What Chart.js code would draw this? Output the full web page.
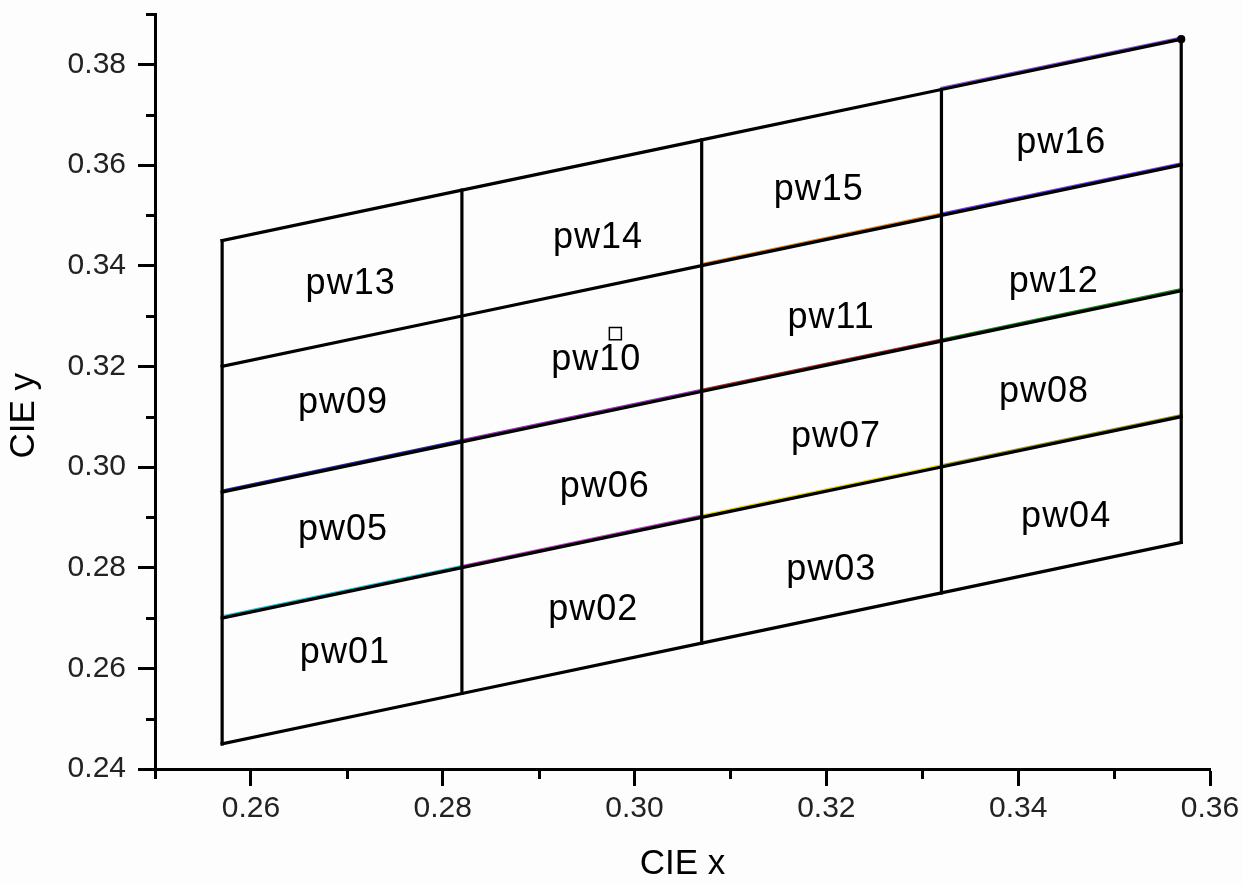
<!DOCTYPE html>
<html>
<head>
<meta charset="utf-8">
<title>CIE x-y bins</title>
<script src="https://cdn.jsdelivr.net/npm/chart.js@4.4.1/dist/chart.umd.min.js"></script>
<style>
  html, body { margin: 0; padding: 0; background: #fdfdfd; }
  #wrap { width: 1243px; height: 885px; position: relative; }
</style>
</head>
<body>
<div id="wrap"><canvas id="cieChart"></canvas></div>
<script>
'use strict';

// bin edges along CIE x
const xEdges = [0.257, 0.282, 0.307, 0.332, 0.357];

// y of each bin boundary line where it crosses the x edges (bottom line first)
const hLine0 = [0.245, 0.255, 0.265, 0.275, 0.285];
const hLine1 = [0.270, 0.280, 0.290, 0.300, 0.310];
const hLine2 = [0.295, 0.305, 0.315, 0.325, 0.335];
const hLine3 = [0.320, 0.330, 0.340, 0.350, 0.360];
const hLine4 = [0.345, 0.355, 0.365, 0.375, 0.385];
const hLines = [hLine0, hLine1, hLine2, hLine3, hLine4];

// faint colour fringe seen along some segments of the lines
const hTints = [
  [null, null, null, null],
  ['#19c9d6', '#c040c8', '#e8d800', '#9a9a10'],
  ['#2a2aa8', '#a030c0', '#a82828', '#1a8a1a'],
  [null, null, '#e88a20', '#7a3cff'],
  [null, null, null, '#8a50e0'],
];

// bin names and where they sit
const binNames = ['pw01', 'pw02', 'pw03', 'pw04', 'pw05', 'pw06', 'pw07', 'pw08',
                  'pw09', 'pw10', 'pw11', 'pw12', 'pw13', 'pw14', 'pw15', 'pw16'];
const binX = [0.2698, 0.2957, 0.3205, 0.3450, 0.2696, 0.2969, 0.3210, 0.3427,
              0.2696, 0.2960, 0.3205, 0.3437, 0.2704, 0.2962, 0.3192, 0.3445];
const binY = [0.2630, 0.2716, 0.2795, 0.2900, 0.2875, 0.2960, 0.3059, 0.3149,
              0.3127, 0.3212, 0.3296, 0.3367, 0.3363, 0.3455, 0.3550, 0.3643];

// measured point
const pointX = [0.2980];
const pointY = [0.3265];

// axis ticks
const xMajor = [0.26, 0.28, 0.30, 0.32, 0.34, 0.36];
const xMinor = [0.25, 0.27, 0.29, 0.31, 0.33, 0.35];
const yMajor = [0.24, 0.26, 0.28, 0.30, 0.32, 0.34, 0.36, 0.38];
const yMinor = [0.25, 0.27, 0.29, 0.31, 0.33, 0.35, 0.37, 0.39];

const FONT = "'Liberation Sans', Arial, sans-serif";

/* ── datasets ─────────────────────────────────────────────── */
const lineStyle = {
  borderColor: '#000',
  borderWidth: 3.2,
  borderCapStyle: 'square',
  pointRadius: 0,
  showLine: true,
  fill: false,
  order: 1,
};

const datasets = [];

// the marker sits on top
datasets.push({
  label: 'point',
  data: pointX.map((x, i) => ({ x, y: pointY[i] })),
  pointStyle: 'rect',
  pointRadius: 8.5,
  borderColor: '#000',
  borderWidth: 1.5,
  backgroundColor: '#fff',
  showLine: false,
  order: 0,
});

hLines.forEach((ys, i) => {
  const data = xEdges.map((x, j) => ({ x, y: ys[j] }));
  datasets.push({
    ...lineStyle,
    label: 'h' + i,
    data,
    pointRadius: i === hLines.length - 1 ? [0, 0, 0, 0, 2.5] : 0,
    pointBackgroundColor: '#000',
  });
  // colour fringe underneath, drawn first
  datasets.push({
    ...lineStyle,
    label: 'tint' + i,
    tint: true,
    data,
    borderWidth: 2.4,
    order: 2,
    segment: { borderColor: c => hTints[i][c.p0DataIndex] || 'rgba(0,0,0,0)' },
  });
});

xEdges.forEach((x, j) => {
  datasets.push({
    ...lineStyle,
    label: 'v' + j,
    data: [{ x, y: hLine0[j] }, { x, y: hLine4[j] }],
  });
});

/* ── plugins: fringe offset, minor ticks, bin labels ──────── */
const tintShift = {
  id: 'tintShift',
  beforeDatasetDraw(chart, args) {
    if (!args.meta._dataset.tint) return;
    chart.ctx.save();
    chart.ctx.translate(0, -1.6);
  },
  afterDatasetDraw(chart, args) {
    if (!args.meta._dataset.tint) return;
    chart.ctx.restore();
  }
};

const minorTicks = {
  id: 'minorTicks',
  afterDraw(chart) {
    const { ctx, scales: { x, y }, chartArea } = chart;
    ctx.save();
    ctx.strokeStyle = '#000';
    ctx.lineWidth = 3;
    ctx.beginPath();
    xMinor.forEach(v => {
      const px = Math.round(x.getPixelForValue(v)) + 0.5;
      ctx.moveTo(px, chartArea.bottom);
      ctx.lineTo(px, chartArea.bottom + 10);
    });
    yMinor.forEach(v => {
      const py = Math.round(y.getPixelForValue(v)) + 0.5;
      ctx.moveTo(chartArea.left, py);
      ctx.lineTo(chartArea.left - 9, py);
    });
    ctx.stroke();
    ctx.restore();
  }
};

const binLabels = {
  id: 'binLabels',
  afterDatasetsDraw(chart) {
    const { ctx, scales: { x, y } } = chart;
    ctx.save();
    ctx.fillStyle = '#000';
    ctx.font = '36px ' + FONT;
    ctx.letterSpacing = '1px';
    ctx.textAlign = 'center';
    ctx.textBaseline = 'middle';
    binNames.forEach((name, i) => {
      ctx.fillText(name, x.getPixelForValue(binX[i]), y.getPixelForValue(binY[i]));
    });
    ctx.restore();
  }
};

const whiteBg = {
  id: 'whiteBg',
  beforeDraw(chart) {
    const { ctx, width, height } = chart;
    ctx.save();
    ctx.fillStyle = '#fdfdfd';
    ctx.fillRect(0, 0, width, height);
    ctx.restore();
  }
};

/* ── chart ────────────────────────────────────────────────── */
const ctx = document.getElementById('cieChart').getContext('2d');
new Chart(ctx, {
  type: 'scatter',
  data: { datasets },
  options: {
    responsive: true,
    maintainAspectRatio: false,
    animation: false,
    layout: { padding: { top: 14, right: 33, left: 0, bottom: 0 } },
    plugins: { legend: { display: false }, tooltip: { enabled: false } },
    scales: {
      x: {
        type: 'linear',
        min: 0.25,
        max: 0.36,
        afterBuildTicks: s => { s.ticks = xMajor.map(value => ({ value })); },
        afterFit: s => { s.height = 116; s.paddingLeft = 0; s.paddingRight = 0; },
        border: { display: true, color: '#000', width: 3 },
        grid: { display: true, drawOnChartArea: false, drawTicks: true, tickLength: 17, tickWidth: 3, tickColor: '#000' },
        ticks: {
          padding: 5,
          color: '#222',
          font: { family: FONT, size: 30 },
          callback: v => v.toFixed(2),
          maxRotation: 0,
          autoSkip: false,
        },
        title: {
          display: true,
          text: 'CIE x',
          color: '#000',
          font: { family: FONT, size: 35 },
          padding: { top: 0, bottom: 0 },
        },
      },
      y: {
        type: 'linear',
        min: 0.24,
        max: 0.39,
        afterBuildTicks: s => { s.ticks = yMajor.map(value => ({ value })); },
        afterFit: s => { s.width = 155; s.paddingTop = 0; s.paddingBottom = 0; },
        border: { display: true, color: '#000', width: 3 },
        grid: { display: true, drawOnChartArea: false, drawTicks: true, tickLength: 17, tickWidth: 3, tickColor: '#000' },
        ticks: {
          padding: 12,
          color: '#222',
          font: { family: FONT, size: 30 },
          callback: v => v.toFixed(2),
          autoSkip: false,
        },
        title: {
          display: true,
          text: 'CIE y\u00a0\u00a0\u00a0\u00a0\u00a0',
          color: '#000',
          font: { family: FONT, size: 35 },
          padding: { top: 3, bottom: 0 },
        },
      },
    },
  },
  plugins: [whiteBg, tintShift, minorTicks, binLabels],
});
</script>
</body>
</html>
